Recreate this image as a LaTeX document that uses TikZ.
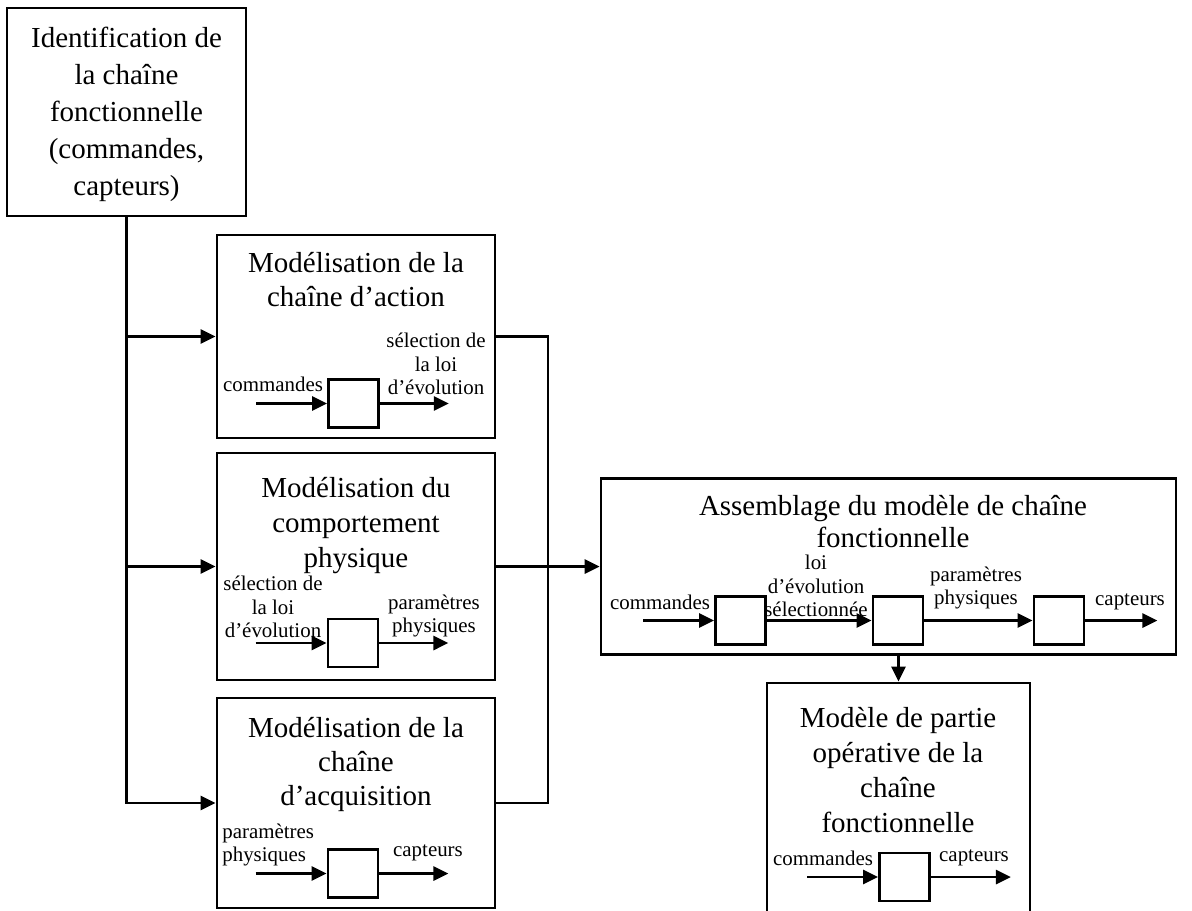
\documentclass[tikz,border=0pt]{standalone}
\usepackage{fontspec}
\setmainfont{Liberation Serif}
\usetikzlibrary{arrows.meta,positioning}

\begin{document}
\begin{tikzpicture}[
  x=0.02cm, y=-0.02cm,
  every node/.style={inner sep=0pt},
  blockbox/.style={draw,line width=1.6pt},
  opbox/.style={draw,line width=1.6pt,minimum width=1.0cm,minimum height=0.96cm},
  titletext/.style={font=\fontsize{16.5}{19.3}\selectfont,align=center,anchor=north},
  sigtext/.style={font=\fontsize{11.9}{13.4}\selectfont,align=center},
  sig/.style={line width=1.6pt,-{Triangle[length=0.3cm,width=0.28cm]}},
  bus/.style={line width=1.6pt},
]
  \useasboundingbox (0,0) rectangle (1192,910);

  % Identification
  \node[blockbox,minimum width=4.78cm,minimum height=4.16cm] (ident) at (126.5,112) {};
  \node[titletext,font=\fontsize{16.5}{21}\selectfont] (identtitle) at (126.5,27)
    {Identification de\\la chaîne\\fonctionnelle\\(commandes,\\capteurs)};

  % Chaine d'action
  \node[blockbox,minimum width=5.56cm,minimum height=4.06cm] (actbox) at (356,336.5) {};
  \node[titletext] (acttitle) at (356,252) {Modélisation de la\\chaîne d’action};
  \node[opbox] (actop) at (353.5,403.5) {};
  \coordinate[left=1.42cm of actop] (actin);
  \coordinate[right=1.38cm of actop] (actout);
  \draw[sig] (actin) -- (actop);
  \draw[sig] (actop) -- (actout);
  \node[sigtext] (actcmd) at (273,384) {commandes};
  \node[sigtext] (actsel) at (436,364) {sélection de\\la loi\\d’évolution};

  % Comportement physique
  \node[blockbox,minimum width=5.56cm,minimum height=4.54cm] (physbox) at (356,566.5) {};
  \node[titletext,font=\fontsize{16.5}{19.9}\selectfont] (phystitle) at (356,477) {Modélisation du\\comportement\\physique};
  \node[opbox] (physop) at (353,643) {};
  \coordinate[left=1.42cm of physop] (physin);
  \coordinate[right=1.38cm of physop] (physout);
  \draw[sig] (physin) -- (physop);
  \draw[sig] (physop) -- (physout);
  \node[sigtext] (physsel) at (273,607) {sélection de\\la loi\\d’évolution};
  \node[sigtext] (physpar) at (434,616) {paramètres\\physiques};

  % Chaine d'acquisition
  \node[blockbox,minimum width=5.56cm,minimum height=4.2cm] (acqbox) at (356,803) {};
  \node[titletext] (acqtitle) at (356,717) {Modélisation de la\\chaîne\\d’acquisition};
  \node[opbox] (acqop) at (353,873.5) {};
  \coordinate[left=1.42cm of acqop] (acqin);
  \coordinate[right=1.38cm of acqop] (acqout);
  \draw[sig] (acqin) -- (acqop);
  \draw[sig] (acqop) -- (acqout);
  \node[sigtext,align=left,anchor=west] (acqpar) at (222,845) {paramètres\\physiques};
  \node[sigtext] (acqcap) at (428,853) {capteurs};

  % Assemblage
  \node[blockbox,minimum width=11.5cm,minimum height=3.52cm] (assbox) at (888.5,566.5) {};
  \node[titletext,font=\fontsize{16.5}{18.2}\selectfont] (asstitle) at (893,495) {Assemblage du modèle de chaîne\\fonctionnelle};
  \node[opbox] (assopa) at (740.5,620.5) {};
  \node[opbox] (assopb) at (898,620.5) {};
  \node[opbox] (assopc) at (1059,620.5) {};
  \coordinate[left=1.42cm of assopa] (assin);
  \coordinate[right=1.44cm of assopc] (assout);
  \draw[sig] (assin) -- (assopa);
  \draw[sig] (assopa) -- (assopb);
  \draw[sig] (assopb) -- (assopc);
  \draw[sig] (assopc) -- (assout);
  \node[sigtext] (asscmd) at (660,602) {commandes};
  \node[sigtext] (asssel) at (816,586) {loi\\d’évolution\\sélectionnée};
  \node[sigtext] (asspar) at (976,588) {paramètres\\physiques};
  \node[sigtext] (asscap) at (1130,602) {capteurs};

  % Modele de partie operative
  \node[blockbox,minimum width=5.26cm,minimum height=4.84cm] (modbox) at (898.5,804) {};
  \node[titletext,font=\fontsize{16.5}{19.9}\selectfont] (modtitle) at (898,707) {Modèle de partie\\opérative de la\\chaîne\\fonctionnelle};
  \node[opbox] (modop) at (904.5,877) {};
  \coordinate[left=1.42cm of modop] (modin);
  \coordinate[right=1.6cm of modop] (modout);
  \draw[sig] (modin) -- (modop);
  \draw[sig] (modop) -- (modout);
  \node[sigtext] (modcmd) at (823,858) {commandes};
  \node[sigtext] (modcap) at (974,858) {capteurs};

  % Liaisons
  \draw[sig] (ident.south) |- (acqbox.west);
  \draw[sig] (ident.south |- actbox.west) -- (actbox.west);
  \draw[sig] (ident.south |- physbox.west) -- (physbox.west);
  \coordinate (rbus) at (548,336.5);
  \draw[bus] (actbox.east) -- (rbus) |- (acqbox.east);
  \draw[sig] (physbox.east) -- (assbox.west);
  \draw[sig] (assbox.south -| modbox.north) -- (modbox.north);
\end{tikzpicture}
\end{document}
